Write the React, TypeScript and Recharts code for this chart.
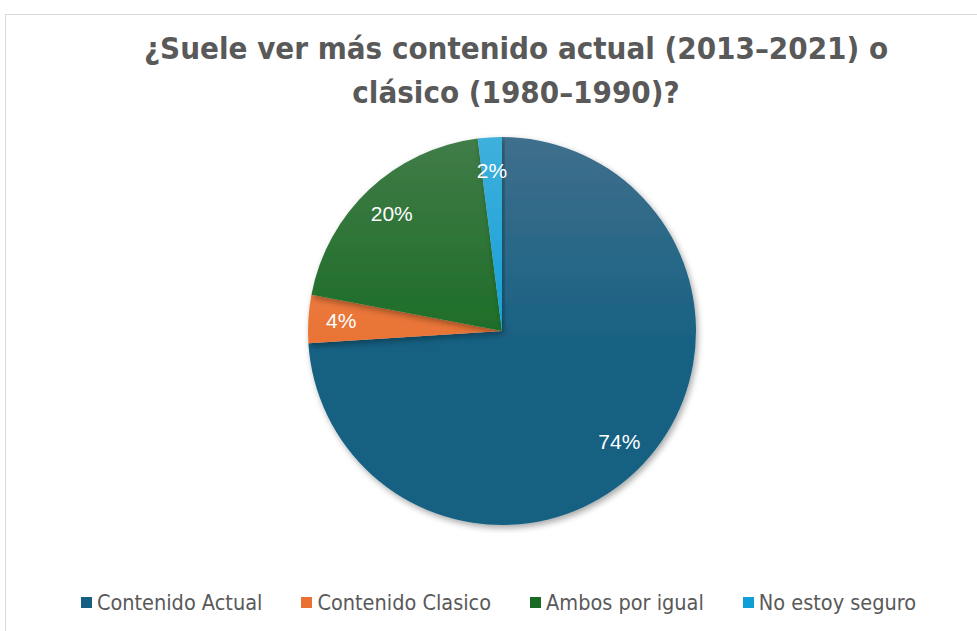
import { Cell, Legend, Pie, PieChart } from "recharts"

const categories = ["Contenido Actual", "Contenido Clasico", "Ambos por igual", "No estoy seguro"]
const shares = [74, 4, 20, 2]
const colors = ["#156082", "#E97132", "#196B24", "#0F9ED5"]
const tops = ["#3f6f8c", "#ee8a55", "#417c48", "#3fb0dc"]
const titleLines = ["¿Suele ver más contenido actual (2013–2021) o", "clásico (1980–1990)?"]

const data = categories.map((name, i) => ({ name, value: shares[i] }))

const RAD = Math.PI / 180
const condensed = '"Liberation Sans Narrow", "DejaVu Sans Condensed", "Roboto", sans-serif'

const renderLabel = (props: any) => {
  const { cx, cy, midAngle, outerRadius, value } = props
  const r = outerRadius * 0.83
  const x = cx + r * Math.cos(-midAngle * RAD)
  const y = cy + r * Math.sin(-midAngle * RAD)
  return (
    <text
      x={x}
      y={y}
      fill="#ffffff"
      textAnchor="middle"
      dominantBaseline="central"
      fontSize={21}
      fontFamily='"Liberation Sans", Arial, sans-serif'
    >
      {`${value}%`}
    </text>
  )
}

const renderLegend = () => (
  <div
    style={{
      display: "flex",
      justifyContent: "center",
      gap: 39,
      paddingLeft: 20,
      fontFamily: condensed,
      fontSize: 21.5,
      color: "#595959",
    }}
  >
    {categories.map((name, i) => (
      <div key={name} style={{ display: "flex", alignItems: "center" }}>
        <span style={{ display: "inline-block", width: 11, height: 11, background: colors[i], marginRight: 5 }} />
        {name}
      </div>
    ))}
  </div>
)

export default function App() {
  return (
    <div style={{ position: "absolute", left: 0, top: 0, width: 977, height: 631, background: "#fff", overflow: "hidden" }}>
      <div style={{ position: "absolute", left: 5, top: 14, width: 990, height: 640, borderTop: "1px solid #d9d9d9", borderLeft: "1px solid #d9d9d9" }} />
      <div
        style={{
          position: "absolute",
          left: 32,
          top: 26,
          width: 968,
          textAlign: "center",
          fontFamily: condensed,
          fontWeight: "bold",
          fontSize: 31,
          lineHeight: "44px",
          color: "#595959",
        }}
      >
        {titleLines.map((l) => (
          <div key={l}>{l}</div>
        ))}
      </div>
      <PieChart width={977} height={631} margin={{ top: 0, right: 0, bottom: 0, left: 0 }} style={{ position: "absolute", left: 0, top: 0 }}>
        <defs>
          {colors.map((c, i) => (
            <linearGradient key={c} id={`g${i}`} gradientUnits="userSpaceOnUse" x1="0" y1="137" x2="0" y2="360">
              <stop offset="0" stopColor={tops[i]} />
              <stop offset="1" stopColor={c} />
            </linearGradient>
          ))}
          <filter id="shadow" x="-10%" y="-10%" width="120%" height="120%">
            <feDropShadow dx="2" dy="3" stdDeviation="3" floodColor="#000" floodOpacity="0.35" />
          </filter>
        </defs>
        <Pie
          data={data}
          dataKey="value"
          nameKey="name"
          cx={502}
          cy={331}
          outerRadius={194}
          startAngle={90}
          endAngle={-270}
          stroke="none"
          label={renderLabel}
          labelLine={false}
          isAnimationActive={false}
          legendType="square"
          style={{ filter: "url(#shadow)" }}
        >
          {data.map((d, i) => (
            <Cell key={d.name} fill={`url(#g${i})`} />
          ))}
        </Pie>
        <Legend verticalAlign="bottom" align="center" wrapperStyle={{ bottom: 16 }} content={renderLegend} />
      </PieChart>
    </div>
  )
}
